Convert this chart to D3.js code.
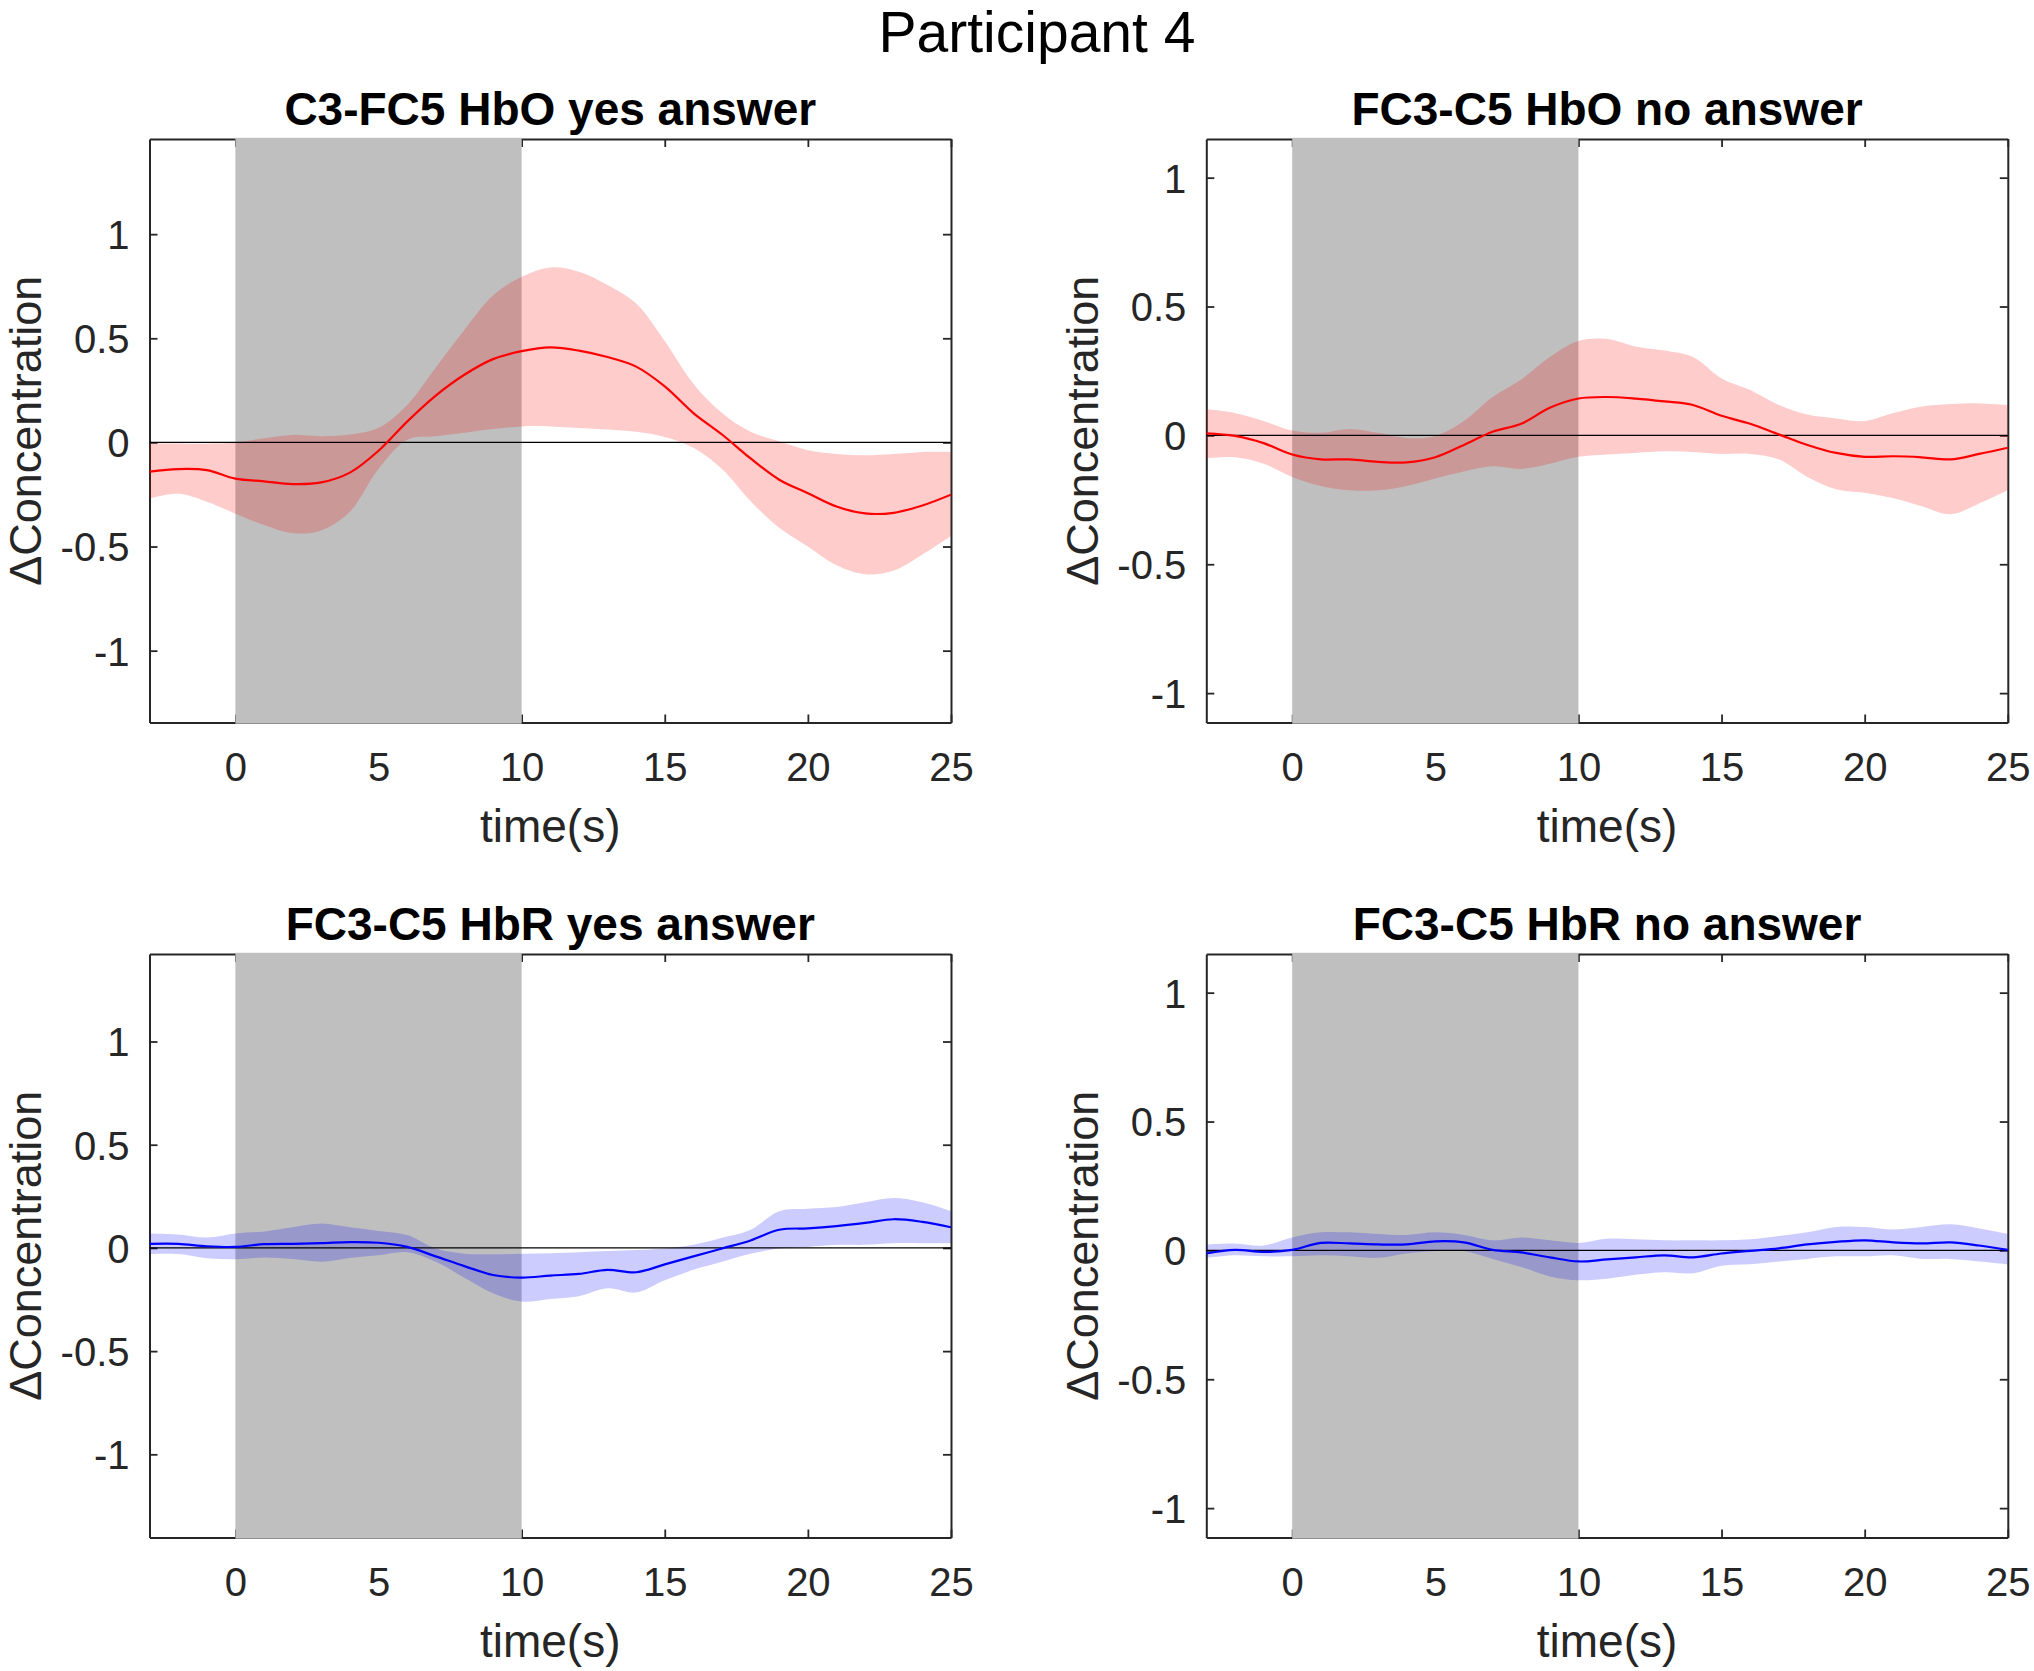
<!DOCTYPE html>
<html>
<head>
<meta charset="utf-8">
<script src="https://cdn.jsdelivr.net/npm/d3@7"></script>
<style>
  body { margin: 0; background: #fff; }
  svg { display: block; }
  text { font-family: "Liberation Sans", Arial, Helvetica, sans-serif; }
</style>
</head>
<body>
<svg id="chart" width="2034" height="1671"></svg>
<script>
// ---------------- data ----------------
const time = [-3,-2,-1,0,1,2,3,4,5,6,7,8,9,10,11,12,13,14,15,16,17,18,19,20,21,22,23,24,25];

const hboYesMean  = [-0.14,-0.128,-0.133,-0.174,-0.187,-0.2,-0.192,-0.145,-0.04,0.1,0.225,0.325,0.4,0.438,0.456,0.441,0.41,0.364,0.269,0.141,0.038,-0.077,-0.179,-0.244,-0.308,-0.341,-0.338,-0.303,-0.251];
const hboYesUpper = [-0.005,-0.005,-0.006,0,0.02,0.036,0.03,0.038,0.07,0.18,0.36,0.54,0.705,0.795,0.84,0.82,0.756,0.667,0.487,0.282,0.141,0.051,0.005,-0.038,-0.056,-0.062,-0.056,-0.046,-0.046];
const hboYesLower = [-0.27,-0.247,-0.285,-0.342,-0.397,-0.436,-0.423,-0.333,-0.128,0.013,0.03,0.046,0.064,0.077,0.077,0.069,0.062,0.051,0.026,-0.026,-0.128,-0.282,-0.41,-0.5,-0.59,-0.633,-0.615,-0.538,-0.449];

const hboNoMean  = [0.008,-0.002,-0.03,-0.074,-0.093,-0.093,-0.103,-0.105,-0.085,-0.037,0.014,0.045,0.107,0.143,0.149,0.143,0.132,0.118,0.076,0.045,0.004,-0.037,-0.068,-0.083,-0.081,-0.085,-0.093,-0.072,-0.048];
const hboNoUpper = [0.101,0.087,0.056,0.019,0.01,0.025,0.01,-0.01,-0.002,0.056,0.149,0.217,0.304,0.366,0.374,0.345,0.329,0.304,0.221,0.176,0.118,0.081,0.066,0.056,0.087,0.112,0.122,0.124,0.118];
const hboNoLower = [-0.089,-0.085,-0.11,-0.161,-0.196,-0.213,-0.213,-0.196,-0.167,-0.14,-0.12,-0.13,-0.11,-0.083,-0.074,-0.068,-0.062,-0.064,-0.072,-0.072,-0.093,-0.161,-0.209,-0.223,-0.244,-0.275,-0.306,-0.264,-0.213];

const hbrYesMean  = [0.02,0.02,0.008,0.005,0.018,0.02,0.023,0.028,0.025,0.005,-0.041,-0.088,-0.131,-0.144,-0.134,-0.126,-0.106,-0.118,-0.08,-0.041,-0.003,0.036,0.088,0.095,0.106,0.121,0.139,0.126,0.1];
const hbrYesUpper = [0.07,0.065,0.05,0.07,0.08,0.1,0.118,0.1,0.082,0.062,-0.003,-0.028,-0.031,-0.028,-0.026,-0.021,-0.015,-0.01,-0.003,0.015,0.049,0.088,0.178,0.19,0.198,0.221,0.242,0.221,0.178];
const hbrYesLower = [-0.03,-0.03,-0.05,-0.055,-0.046,-0.054,-0.067,-0.049,-0.036,-0.021,-0.067,-0.144,-0.22,-0.26,-0.247,-0.234,-0.196,-0.216,-0.157,-0.106,-0.067,-0.028,-0.003,0.005,0.015,0.015,0.023,0.023,0.023];

const hbrNoMean  = [-0.012,0.002,-0.006,0.002,0.029,0.027,0.023,0.023,0.035,0.031,0.002,-0.008,-0.027,-0.043,-0.035,-0.027,-0.019,-0.027,-0.012,-0.002,0.008,0.023,0.033,0.039,0.031,0.027,0.031,0.019,0.002];
const hbrNoUpper = [0.023,0.027,0.019,0.05,0.07,0.07,0.064,0.06,0.07,0.06,0.039,0.05,0.039,0.029,0.045,0.043,0.039,0.039,0.039,0.043,0.056,0.07,0.091,0.091,0.081,0.091,0.101,0.085,0.064];
const hbrNoLower = [-0.029,-0.019,-0.023,-0.023,-0.019,-0.023,-0.029,-0.012,-0.002,-0.002,-0.033,-0.064,-0.101,-0.116,-0.11,-0.095,-0.085,-0.089,-0.06,-0.054,-0.043,-0.033,-0.023,-0.023,-0.019,-0.033,-0.033,-0.043,-0.054];

const panelTitles = ["C3-FC5 HbO yes answer", "FC3-C5 HbO no answer", "FC3-C5 HbR yes answer", "FC3-C5 HbR no answer"];
const panelColors = ["#ff0000", "#ff0000", "#0000ff", "#0000ff"];
const yLimits = [[-1.345, 1.457], [-1.114, 1.150], [-1.403, 1.424], [-1.114, 1.150]];
const xLimits = [-3, 25];
const stimulus = [0, 10];
const xTicks = [0, 5, 10, 15, 20, 25];
const yTicks = [-1, -0.5, 0, 0.5, 1];
const yTickLabels = ["-1", "-0.5", "0", "0.5", "1"];
const mainTitle = "Participant 4";
const xLabel = "time(s)";
const yLabel = "\u0394Concentration";

const panelSeries = [
  [hboYesMean, hboYesUpper, hboYesLower],
  [hboNoMean, hboNoUpper, hboNoLower],
  [hbrYesMean, hbrYesUpper, hbrYesLower],
  [hbrNoMean, hbrNoUpper, hbrNoLower]
];

// ---------------- layout ----------------
const svg = d3.select("#chart");
const lefts = [149.5, 1206.3];
const tops = [139, 954];
const W = 801.5, H = 583.5;
const axisColor = "#262626";

svg.append("text")
  .attr("x", 1037).attr("y", 52)
  .attr("text-anchor", "middle")
  .attr("font-size", 57)
  .attr("fill", "#000")
  .text(mainTitle);

panelSeries.forEach((series, p) => {
  const col = p % 2, row = Math.floor(p / 2);
  const g = svg.append("g").attr("transform", `translate(${lefts[col]},${tops[row]})`);
  const x = d3.scaleLinear().domain(xLimits).range([0, W]);
  const y = d3.scaleLinear().domain(yLimits[p]).range([H, 0]);
  const rows = time.map((t, i) => ({ t, m: series[0][i], u: series[1][i], l: series[2][i] }));

  const clipId = "clip" + p;
  g.append("clipPath").attr("id", clipId)
    .append("rect").attr("x", 0).attr("y", 0).attr("width", W).attr("height", H);

  // axes (box with inward ticks)
  const fmt = v => yTickLabels[yTicks.indexOf(v)];
  const axB = g.append("g").attr("transform", `translate(0,${H})`)
    .call(d3.axisBottom(x).tickValues(xTicks).tickSize(-8).tickSizeOuter(0).tickPadding(30).tickFormat(d3.format("d")));
  const axT = g.append("g")
    .call(d3.axisTop(x).tickValues(xTicks).tickSize(-8).tickSizeOuter(0).tickFormat(""));
  const axL = g.append("g")
    .call(d3.axisLeft(y).tickValues(yTicks).tickSize(-8).tickSizeOuter(0).tickPadding(20).tickFormat(fmt));
  const axR = g.append("g").attr("transform", `translate(${W},0)`)
    .call(d3.axisRight(y).tickValues(yTicks).tickSize(-8).tickSizeOuter(0).tickFormat(""));
  [axB, axT, axL, axR].forEach(a => {
    a.select(".domain").attr("stroke", axisColor).attr("stroke-width", 2);
    a.selectAll(".tick line").attr("stroke", axisColor).attr("stroke-width", 1.8);
    a.selectAll(".tick text").attr("fill", axisColor).attr("font-size", 40)
      .attr("font-family", '"Liberation Sans", Arial, Helvetica, sans-serif');
  });
  axL.selectAll(".tick text").attr("dy", "0.36em");

  // stimulus period patch
  g.append("rect")
    .attr("x", x(stimulus[0])).attr("y", -1.2)
    .attr("width", x(stimulus[1]) - x(stimulus[0])).attr("height", H + 2.4)
    .attr("fill", "#bfbfbf");

  const plot = g.append("g").attr("clip-path", `url(#${clipId})`);
  const curve = d3.curveCatmullRom.alpha(0.5);

  plot.append("path").datum(rows)
    .attr("d", d3.area().curve(curve).x(d => x(d.t)).y0(d => y(d.l)).y1(d => y(d.u)))
    .attr("fill", panelColors[p]).attr("fill-opacity", 0.2).attr("stroke", "none");

  plot.append("line")
    .attr("x1", x(xLimits[0])).attr("x2", x(xLimits[1]))
    .attr("y1", y(0)).attr("y2", y(0))
    .attr("stroke", "#000").attr("stroke-width", 1.4);

  plot.append("path").datum(rows)
    .attr("d", d3.line().curve(curve).x(d => x(d.t)).y(d => y(d.m)))
    .attr("fill", "none").attr("stroke", panelColors[p]).attr("stroke-width", 2.2);

  // title and labels
  g.append("text")
    .attr("x", W / 2).attr("y", -14)
    .attr("text-anchor", "middle")
    .attr("font-size", 46).attr("font-weight", "bold").attr("fill", "#000")
    .text(panelTitles[p]);

  g.append("text")
    .attr("x", W / 2).attr("y", H + 119)
    .attr("text-anchor", "middle")
    .attr("font-size", 46).attr("fill", axisColor)
    .text(xLabel);

  g.append("text")
    .attr("transform", `translate(-108.5,${H / 2}) rotate(-90)`)
    .attr("text-anchor", "middle")
    .attr("font-size", 45).attr("fill", axisColor)
    .text(yLabel);
});
</script>
</body>
</html>
